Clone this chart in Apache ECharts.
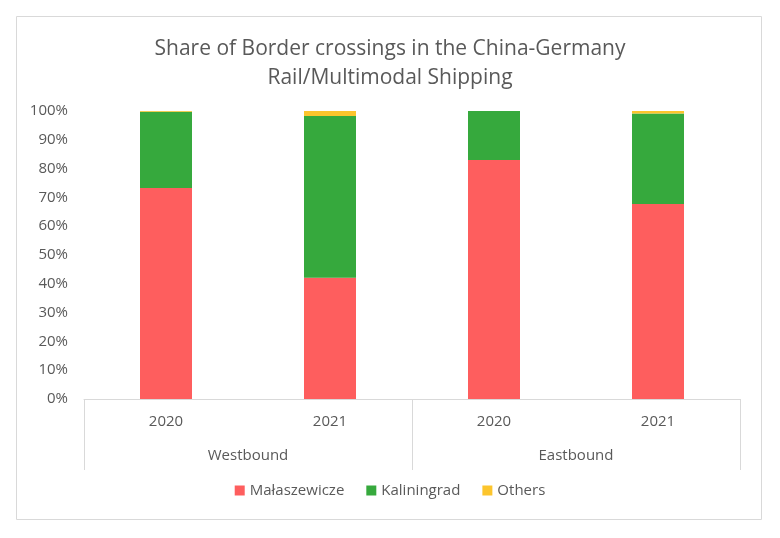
<!DOCTYPE html>
<html><head><meta charset="utf-8">
<script src="https://cdn.jsdelivr.net/npm/echarts@6/dist/echarts.min.js"></script>
<style>html,body{margin:0;padding:0;background:#fff}#c{width:780px;height:538px}</style>
</head><body><div id="c"></div>
<script>
var years = ['2020', '2021', '2020', '2021'];
var groups = ['Westbound', 'Eastbound'];
var malaszewicze = [73.3, 42.1, 83.0, 67.7];
var kaliningrad = [26.4, 56.2, 17.0, 31.4];
var others = [0.3, 1.7, 0.0, 0.9];
var yTicks = [0, 10, 20, 30, 40, 50, 60, 70, 80, 90, 100];

var font = '"Open Sans", "Noto Sans", sans-serif';
var txt = '#595959';
var chart = echarts.init(document.getElementById('c'), null, {renderer: 'canvas'});
chart.setOption({
  animation: false,
  graphic: [{type: 'rect', shape: {x: 16.5, y: 16.5, width: 745, height: 503}, style: {fill: 'none', stroke: '#d9d9d9', lineWidth: 1}, silent: true}],
  title: {
    text: 'Share of Border crossings in the China-Germany\nRail/Multimodal Shipping',
    left: 'center', top: 30,
    textStyle: {fontFamily: font, fontSize: 21, fontWeight: 'normal', color: txt, lineHeight: 29}
  },
  legend: {
    bottom: 35, left: 'center', itemWidth: 10, itemHeight: 10, itemGap: 22, icon: 'rect',
    textStyle: {fontFamily: font, fontSize: 15, color: txt}
  },
  grid: {left: 84, right: 40, top: 111, bottom: 139},
  xAxis: [{
    type: 'category', data: years, position: 'bottom',
    axisLine: {show: true, lineStyle: {color: '#d9d9d9'}},
    axisTick: {show: false},
    axisLabel: {fontFamily: font, fontSize: 15, color: txt, margin: 15}
  }, {
    type: 'category', data: groups, position: 'bottom',
    axisLine: {show: false},
    axisTick: {show: true, length: 71, lineStyle: {color: '#d9d9d9'}},
    axisLabel: {fontFamily: font, fontSize: 15, color: txt, margin: 49}
  }],
  yAxis: {
    type: 'value', min: 0, max: 100, interval: 10,
    axisLine: {show: false}, axisTick: {show: false}, splitLine: {show: false},
    axisLabel: {fontFamily: font, fontSize: 15, color: txt, margin: 16,
      formatter: function (v) { return yTicks.indexOf(v) >= 0 ? v + '%' : ''; }}
  },
  series: [
    {name: 'Małaszewicze', type: 'bar', stack: 's', data: malaszewicze, barWidth: 52, itemStyle: {color: '#FE5E5E'}},
    {name: 'Kaliningrad', type: 'bar', stack: 's', data: kaliningrad, barWidth: 52, itemStyle: {color: '#36A93D'}},
    {name: 'Others', type: 'bar', stack: 's', data: others, barWidth: 52, itemStyle: {color: '#FCC52D'}}
  ]
});
</script></body></html>
